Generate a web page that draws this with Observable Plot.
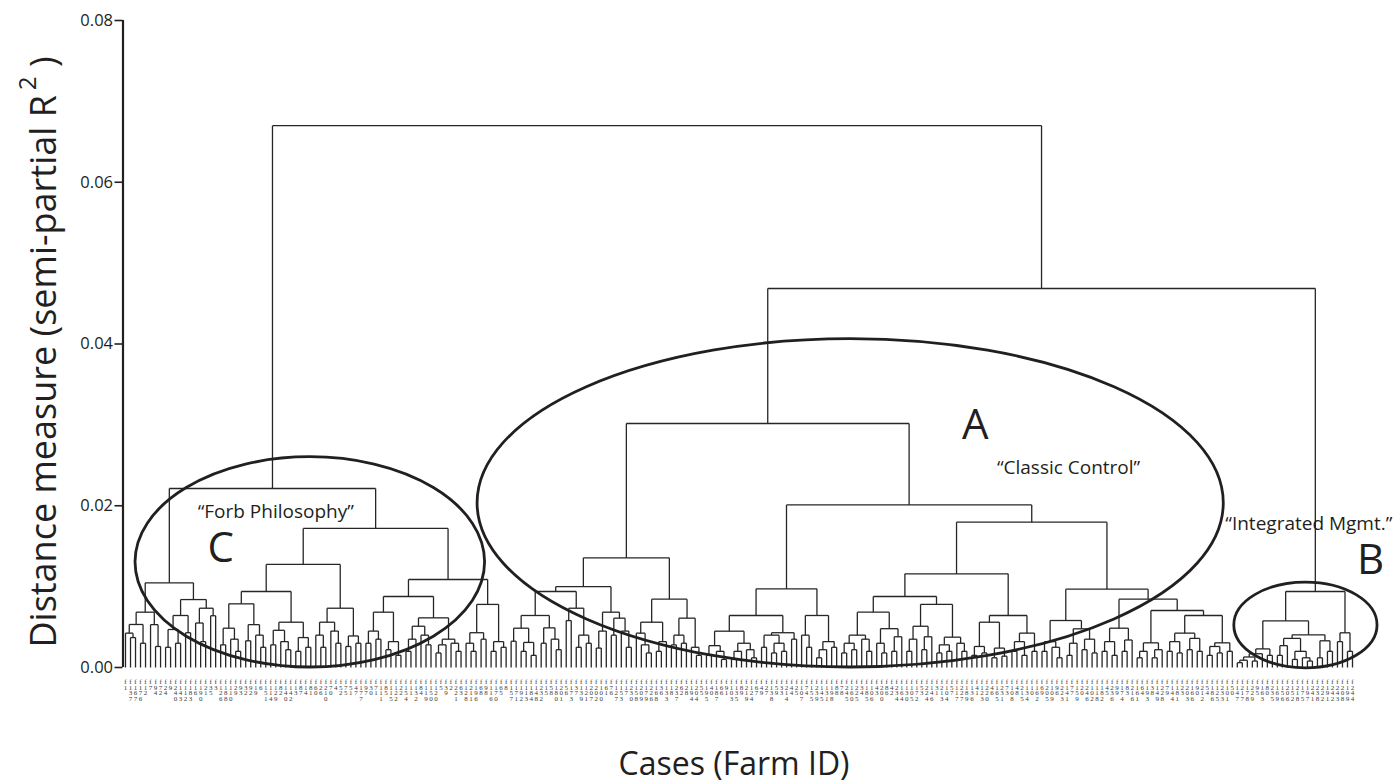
<!DOCTYPE html>
<html><head><meta charset="utf-8">
<script src="https://cdn.jsdelivr.net/npm/d3@7"></script>
<script src="https://cdn.jsdelivr.net/npm/@observablehq/plot@0.6"></script>
<style>body{margin:0;background:#fff}#chart{width:1397px;height:783px}</style>
</head><body><div id="chart"></div>
<script>
// ---------- data ----------
const yTicks = [0, 0.02, 0.04, 0.06, 0.08];

const farmIds = [
  1,137,167,176,12,7,94,72,24,9, 240,143,112,183,16,190,21,35,3,126,
  188,110,29,93,32,92,19,6,151,114, 129,82,140,142,13,87,14,81,60,26,
  210,70,4,52,75,51,47,177,97,30, 71,111,85,115,122,22,154,11,132,84,
  119,150,120,5,39,2,221,63,128,211, 196,68,98,116,170,65,8,157,171,192,
  113,184,148,232,15,58,180,201,56,173, 37,139,121,207,202,100,61,76,127,153,
  17,230,158,209,179,226,168,36,133,18, 237,62,28,194,204,55,195,40,187,66,
  91,103,135,89,219,124,67,49,27,138, 59,33,214,44,25,107,74,155,239,145,
  131,198,88,78,245,160,225,34,185,106, 43,200,86,42,234,164,130,105,172,53,
  224,146,31,213,104,57,117,227,189,136, 41,123,220,46,165,231,73,108,48,215,
  134,10,162,69,205,109,96,223,141,77, 159,20,246,102,118,182,45,236,99,174,
  83,216,161,64,193,38,149,228,79,144, 181,23,203,166,90,212,54,186,125,233,
  101,50,147,217,178,229,95,163,80,235, 169,156,206,152,218,175,197,241,238,222,
  191,242,243,208,199,244
];

// dendrogram: node = [mergeHeight, left, right]; 0 = a leaf (farms taken in order)
const clusterC1 = [0.01047,
  [0.00684, [0.00532, [0.00425, 0, [0.0037, 0, 0]], [0.0030, 0, 0]], [0.0053, 0, [0.0026, 0, 0]]],
  [0.0084,
    [0.00643, [0.0047, [0.0025, 0, 0], [0.0030, 0, 0]], [0.0043, 0, 0]],
    [0.00733, [0.0055, 0, [0.0032, 0, 0]], [0.0064, 0, 0]]]];

const clusterC2a = [0.01274,
  [0.0094,
    [0.00787,
      [0.00486, [0.0028, 0, 0], [0.0035, 0, [0.0020, 0, 0]]],
      [0.0053, [0.0033, 0, 0], [0.0040, 0, [0.0025, 0, 0]]]],
    [0.0056,
      [0.0046, [0.0028, 0, 0], [0.0032, 0, [0.0022, 0, 0]]],
      [0.0037, [0.0020, 0, 0], [0.0025, 0, 0]]]],
  [0.00733,
    [0.0056, [0.0040, 0, [0.0025, 0, 0]], [0.0045, 0, [0.0030, 0, 0]]],
    [0.0039, [0.0026, 0, 0], [0.0030, 0, 0]]]];

const clusterC2b = [0.01088,
  [0.00878,
    [0.00684,
      [0.0045, [0.0030, 0, 0], [0.0035, 0, 0]],
      [0.0032, [0.0022, 0, 0], [0.0015, 0, 0]]],
    [0.00614,
      [0.0051, [0.0035, [0.0020, 0, 0], 0], [0.0040, 0, [0.0028, 0, 0]]],
      [0.0035, [0.0028, [0.0018, 0, 0], 0], [0.0030, 0, [0.0020, 0, 0]]]]],
  [0.0078,
    [0.0043, [0.0030, 0, [0.0020, 0, 0]], [0.0035, 0, 0]],
    [0.0032, [0.0020, 0, 0], [0.0025, 0, 0]]]];

const clusterA1 = [0.01356,
  [0.0100,
    [0.0094,
      [0.00643,
        [0.00486, [0.00325, 0, 0], [0.0031, [0.0020, 0, 0], [0.0015, 0, 0]]],
        [0.0049, [0.0030, 0, 0], [0.0035, 0, [0.0022, 0, 0]]]],
      [0.00733, [0.0058, 0, 0], [0.0040, [0.0025, 0, 0], [0.0030, 0, 0]]]],
    [0.00684,
      [0.0045, [0.0024, 0, 0], 0],
      [0.0061, [0.0040, 0, 0], [0.0045, 0, [0.0025, 0, 0]]]]],
  [0.00845,
    [0.0056, [0.00425, 0, [0.0028, 0, [0.0018, 0, 0]]], [0.0032, [0.0020, 0, 0], 0]],
    [0.0061, [0.0040, [0.0028, 0, 0], [0.0030, 0, 0]], [0.0025, 0, [0.0015, 0, 0]]]]];

const clusterA2a = [0.00973,
  [0.00643,
    [0.00449,
      [0.0027, [0.0015, 0, 0], [0.0020, 0, [0.0010, 0, 0]]],
      [0.0030, [0.0020, [0.0010, 0, 0], 0], [0.0022, 0, [0.0012, 0, 0]]]],
    [0.0043,
      [0.0040, [0.0025, 0, 0], [0.0030, [0.0018, 0, 0], [0.0020, 0, 0]]],
      [0.0035, 0, 0]]],
  [0.00643,
    [0.0040, 0, [0.0025, 0, 0]],
    [0.0032, [0.0022, [0.0012, 0, 0], 0], [0.0025, 0, 0]]]];

const clusterA2b1 = [0.01158,
  [0.00878,
    [0.00684,
      [0.0040, [0.0030, [0.0018, 0, 0], [0.0022, 0, 0]], [0.0035, 0, [0.0020, 0, 0]]],
      [0.0048, [0.0030, 0, [0.0018, 0, 0]], [0.0038, [0.0020, 0, 0], 0]]],
    [0.0078,
      [0.0051, [0.0035, [0.0020, 0, 0], 0], [0.0038, [0.0022, 0, 0], 0]],
      [0.00375, [0.0028, [0.0018, 0, 0], [0.0020, 0, 0]], [0.0030, 0, [0.0020, 0, 0]]]]],
  [0.00643,
    [0.0056, [0.0026, [0.0015, 0, 0], [0.0018, 0, 0]], [0.0024, [0.0012, 0, 0], [0.0014, 0, 0]]],
    [0.00425, [0.0032, [0.0020, 0, 0], [0.0015, 0, 0]], [0.0020, 0, 0]]]];

const clusterA2b2 = [0.00969,
  [0.00581,
    [0.0032, [0.0020, 0, 0], [0.0025, 0, [0.0012, 0, 0]]],
    [0.00478, [0.0030, [0.0015, 0, 0], 0], [0.0035, [0.0022, 0, 0], [0.0018, 0, 0]]]],
  [0.00845,
    [0.00486, [0.0032, [0.0020, 0, 0], [0.0015, 0, 0]], [0.0034, [0.0020, 0, 0], 0]],
    [0.00705,
      [0.00305, [0.0020, [0.0012, 0, 0], 0], [0.0022, [0.0012, 0, 0], 0]],
      [0.00643,
        [0.00425, [0.0032, [0.0020, 0, 0], [0.0018, 0, 0]], [0.0036, [0.0022, 0, 0], [0.0020, 0, 0]]],
        [0.00305, [0.0026, [0.0015, 0, 0], [0.0018, 0, 0]], [0.0020, 0, 0]]]]]];

const clusterB = [0.0094,
  [0.00577,
    [0.0023,
      [0.0017, [0.0013, [0.0009, [0.0006, 0, 0], 0], [0.0008, 0, 0]], 0],
      [0.0015, 0, 0]],
    [0.00404,
      [0.0036, [0.0027, [0.0015, 0, 0], 0], [0.0020, [0.0010, 0, 0], [0.0012, 0, [0.0008, 0, 0]]]],
      [0.0033, [0.0012, 0, 0], [0.0020, 0, 0]]]],
  [0.00429, [0.0032, 0, 0], [0.0020, 0, 0]]];

const clusterC = [0.02213, clusterC1, [0.0172, clusterC2a, clusterC2b]];
const clusterA = [0.03017, clusterA1, [0.0201, clusterA2a, [0.01797, clusterA2b1, clusterA2b2]]];
const tree = [0.0670, clusterC, [0.04686, clusterA, clusterB]];

// annotations (x in leaf positions, y in distance units)
const noteText = ["A", "\u201cClassic Control\u201d", "\u201cForb Philosophy\u201d", "C", "\u201cIntegrated Mgmt.\u201d", "B"];
const noteX    = [169.7, 188.3, 30.0, 19.0, 219.6, 248.6];
const noteY    = [0.0299, 0.0247, 0.0192, 0.0147, 0.0178, 0.0132];
const noteSize = [42, 19, 19, 42, 19, 42];
const noteAnchor = ["middle", "middle", "middle", "middle", "start", "middle"];

// group ellipses: centre x, centre y, radius x (leaf units), radius y (distance units)
const ellipseCx = [144.8, 36.9, 235.7];
const ellipseCy = [0.0203, 0.0130, 0.0052];
const ellipseRx = [74.5, 34.9, 14.3];
const ellipseRy = [0.0203, 0.0130, 0.0053];

// ---------- layout of the dendrogram ----------
let counter = 0;
const leafPos = [];
const segments = [];
function layout(n) {
  if (!Array.isArray(n)) { const i = counter++; leafPos.push(i); return {x: i, h: 0}; }
  const [h, a, b] = n;
  const L = layout(a), R = layout(b);
  segments.push({x1: L.x, y1: h, x2: R.x, y2: h});
  segments.push({x1: L.x, y1: L.h, x2: L.x, y2: h});
  segments.push({x1: R.x, y1: R.h, x2: R.x, y2: h});
  return {x: (L.x + R.x) / 2, h};
}
layout(tree);
const nLeaves = counter;
const leafLabel = i => "f\n" + String(farmIds[i] ?? "").split("").join("\n");

const notes = noteText.map((t, i) => ({t, x: noteX[i], y: noteY[i], s: noteSize[i], a: noteAnchor[i]}));

const plot = Plot.plot({
  width: 1397, height: 783,
  marginLeft: 122.5, marginRight: 42.5, marginTop: 20, marginBottom: 116,
  x: {domain: [-0.5, nLeaves - 0.5], axis: null},
  y: {domain: [0, 0.08], axis: null},
  style: {fontFamily: "'Open Sans', sans-serif", background: "#fff", color: "#231f20"},
  marks: [
    Plot.link(segments, {x1: "x1", y1: "y1", x2: "x2", y2: "y2", stroke: "#262626", strokeWidth: 1.3}),
    Plot.ruleX([-0.5], {y1: 0, y2: 0.08, stroke: "#231f20", strokeWidth: 2.2}),
    Plot.axisY({ticks: yTicks, tickFormat: d3.format(".2f"), tickSize: 8, tickPadding: 2, fontSize: 16.5, label: null, strokeWidth: 1.6}),
    Plot.axisX({ticks: leafPos, tickFormat: leafLabel, tickSize: 0, tickPadding: 13, fontSize: 7, lineHeight: 0.78, fontFamily: "'Liberation Serif', serif", fill: "#3a3a3a", label: null}),
    Plot.text(notes.filter(d => d.a === "middle"), {x: "x", y: "y", text: "t", fontSize: "s", fill: "#231f20", clip: false}),
    Plot.text(notes.filter(d => d.a === "start"), {x: "x", y: "y", text: "t", fontSize: "s", textAnchor: "start", fill: "#231f20", clip: false})
  ]
});

const svg = d3.select(plot);
const sx = plot.scale("x"), sy = plot.scale("y");
const px = v => sx.apply(v), py = v => sy.apply(v);
const ell = svg.append("g").attr("fill", "none").attr("stroke", "#231f20").attr("stroke-width", 2.8);
ellipseCx.forEach((cx, i) => {
  ell.append("ellipse")
    .attr("cx", px(cx)).attr("cy", py(ellipseCy[i]))
    .attr("rx", px(cx + ellipseRx[i]) - px(cx))
    .attr("ry", py(0) - py(ellipseRy[i]));
});

const yl = svg.append("text")
  .attr("transform", "translate(56,352) rotate(-90)")
  .attr("text-anchor", "middle")
  .attr("fill", "#231f20")
  .style("font-family", "'Open Sans', sans-serif")
  .style("font-size", "36px");
yl.append("tspan").text("Distance measure (semi-partial R");
yl.append("tspan").attr("dy", -20).attr("dx", 5).style("font-size", "24px").text("2");
yl.append("tspan").attr("dy", 20).text(" )");

svg.append("text")
  .attr("x", 734).attr("y", 775)
  .attr("text-anchor", "middle")
  .attr("fill", "#231f20")
  .style("font-family", "'Open Sans', sans-serif")
  .style("font-size", "32px")
  .text("Cases (Farm ID)");

document.getElementById("chart").appendChild(plot);
</script></body></html>
